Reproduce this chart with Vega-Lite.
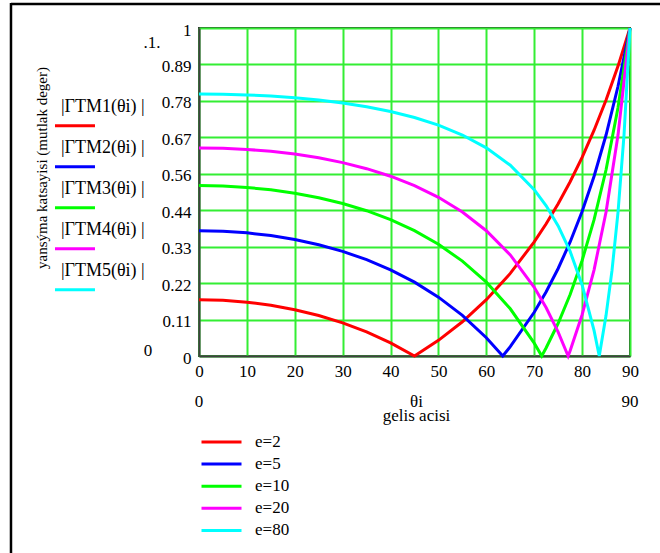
{
  "$schema": "https://vega.github.io/schema/vega-lite/v6.json",
  "width": 431,
  "height": 328,
  "autosize": {"type": "none"},
  "padding": {"left": 199, "top": 28, "right": 30, "bottom": 197},
  "background": "white",
  "config": {
    "font": "Liberation Serif",
    "view": {"stroke": "#333333", "strokeWidth": 2},
    "axis": {"labelFont": "Liberation Serif", "titleFont": "Liberation Serif"},
    "legend": {"labelFont": "Liberation Serif", "titleFont": "Liberation Serif"},
    "text": {"font": "Liberation Serif"}
  },
  "datasets": {
    "curves": [
      {"theta": 0, "series": "e=2", "r": 0.1716}, {"theta": 5, "series": "e=2", "r": 0.1697}, {"theta": 10, "series": "e=2", "r": 0.1641}, {"theta": 15, "series": "e=2", "r": 0.1547}, {"theta": 20, "series": "e=2", "r": 0.1412}, {"theta": 25, "series": "e=2", "r": 0.1235}, {"theta": 30, "series": "e=2", "r": 0.101}, {"theta": 35, "series": "e=2", "r": 0.0734}, {"theta": 40, "series": "e=2", "r": 0.04}, {"theta": 45, "series": "e=2", "r": 0}, {"theta": 50, "series": "e=2", "r": 0.0477}, {"theta": 55, "series": "e=2", "r": 0.1043}, {"theta": 60, "series": "e=2", "r": 0.1716}, {"theta": 65, "series": "e=2", "r": 0.2518}, {"theta": 70, "series": "e=2", "r": 0.348}, {"theta": 72.5, "series": "e=2", "r": 0.4032}, {"theta": 75, "series": "e=2", "r": 0.4641}, {"theta": 77.5, "series": "e=2", "r": 0.5313}, {"theta": 80, "series": "e=2", "r": 0.6057}, {"theta": 82.5, "series": "e=2", "r": 0.6884}, {"theta": 85, "series": "e=2", "r": 0.7805}, {"theta": 87.5, "series": "e=2", "r": 0.8838}, {"theta": 90, "series": "e=2", "r": 1},
      {"theta": 0, "series": "e=5", "r": 0.382}, {"theta": 5, "series": "e=5", "r": 0.3803}, {"theta": 10, "series": "e=5", "r": 0.3754}, {"theta": 15, "series": "e=5", "r": 0.3671}, {"theta": 20, "series": "e=5", "r": 0.3551}, {"theta": 25, "series": "e=5", "r": 0.3392}, {"theta": 30, "series": "e=5", "r": 0.3189}, {"theta": 35, "series": "e=5", "r": 0.2937}, {"theta": 40, "series": "e=5", "r": 0.2628}, {"theta": 45, "series": "e=5", "r": 0.2252}, {"theta": 50, "series": "e=5", "r": 0.1794}, {"theta": 55, "series": "e=5", "r": 0.1238}, {"theta": 60, "series": "e=5", "r": 0.0557}, {"theta": 63.43, "series": "e=5", "r": 0}, {"theta": 65, "series": "e=5", "r": 0.0283}, {"theta": 70, "series": "e=5", "r": 0.1333}, {"theta": 72.5, "series": "e=5", "r": 0.1959}, {"theta": 75, "series": "e=5", "r": 0.2668}, {"theta": 77.5, "series": "e=5", "r": 0.3477}, {"theta": 80, "series": "e=5", "r": 0.4406}, {"theta": 82.5, "series": "e=5", "r": 0.5481}, {"theta": 85, "series": "e=5", "r": 0.6738}, {"theta": 87.5, "series": "e=5", "r": 0.8223}, {"theta": 90, "series": "e=5", "r": 1},
      {"theta": 0, "series": "e=10", "r": 0.5195}, {"theta": 5, "series": "e=10", "r": 0.5181}, {"theta": 10, "series": "e=10", "r": 0.5139}, {"theta": 15, "series": "e=10", "r": 0.5067}, {"theta": 20, "series": "e=10", "r": 0.4964}, {"theta": 25, "series": "e=10", "r": 0.4827}, {"theta": 30, "series": "e=10", "r": 0.465}, {"theta": 35, "series": "e=10", "r": 0.443}, {"theta": 40, "series": "e=10", "r": 0.4156}, {"theta": 45, "series": "e=10", "r": 0.382}, {"theta": 50, "series": "e=10", "r": 0.3405}, {"theta": 55, "series": "e=10", "r": 0.2892}, {"theta": 60, "series": "e=10", "r": 0.2252}, {"theta": 65, "series": "e=10", "r": 0.144}, {"theta": 70, "series": "e=10", "r": 0.0392}, {"theta": 71.57, "series": "e=10", "r": 0}, {"theta": 72.5, "series": "e=10", "r": 0.0252}, {"theta": 75, "series": "e=10", "r": 0.0998}, {"theta": 77.5, "series": "e=10", "r": 0.1873}, {"theta": 80, "series": "e=10", "r": 0.2911}, {"theta": 82.5, "series": "e=10", "r": 0.4157}, {"theta": 85, "series": "e=10", "r": 0.5679}, {"theta": 87.5, "series": "e=10", "r": 0.7576}, {"theta": 90, "series": "e=10", "r": 1},
      {"theta": 0, "series": "e=20", "r": 0.6345}, {"theta": 5, "series": "e=20", "r": 0.6334}, {"theta": 10, "series": "e=20", "r": 0.6299}, {"theta": 15, "series": "e=20", "r": 0.624}, {"theta": 20, "series": "e=20", "r": 0.6156}, {"theta": 25, "series": "e=20", "r": 0.6042}, {"theta": 30, "series": "e=20", "r": 0.5896}, {"theta": 35, "series": "e=20", "r": 0.5711}, {"theta": 40, "series": "e=20", "r": 0.5481}, {"theta": 45, "series": "e=20", "r": 0.5195}, {"theta": 50, "series": "e=20", "r": 0.4838}, {"theta": 55, "series": "e=20", "r": 0.439}, {"theta": 60, "series": "e=20", "r": 0.382}, {"theta": 65, "series": "e=20", "r": 0.308}, {"theta": 70, "series": "e=20", "r": 0.2094}, {"theta": 72.5, "series": "e=20", "r": 0.1471}, {"theta": 75, "series": "e=20", "r": 0.073}, {"theta": 77.08, "series": "e=20", "r": 0}, {"theta": 77.5, "series": "e=20", "r": 0.0163}, {"theta": 80, "series": "e=20", "r": 0.1258}, {"theta": 82.5, "series": "e=20", "r": 0.2628}, {"theta": 85, "series": "e=20", "r": 0.4391}, {"theta": 87.5, "series": "e=20", "r": 0.6735}, {"theta": 90, "series": "e=20", "r": 1},
      {"theta": 0, "series": "e=80", "r": 0.7989}, {"theta": 5, "series": "e=80", "r": 0.7982}, {"theta": 10, "series": "e=80", "r": 0.7961}, {"theta": 15, "series": "e=80", "r": 0.7925}, {"theta": 20, "series": "e=80", "r": 0.7873}, {"theta": 25, "series": "e=80", "r": 0.7804}, {"theta": 30, "series": "e=80", "r": 0.7713}, {"theta": 35, "series": "e=80", "r": 0.7598}, {"theta": 40, "series": "e=80", "r": 0.7453}, {"theta": 45, "series": "e=80", "r": 0.727}, {"theta": 50, "series": "e=80", "r": 0.7037}, {"theta": 55, "series": "e=80", "r": 0.6738}, {"theta": 60, "series": "e=80", "r": 0.6345}, {"theta": 65, "series": "e=80", "r": 0.5816}, {"theta": 70, "series": "e=80", "r": 0.5073}, {"theta": 72.5, "series": "e=80", "r": 0.4579}, {"theta": 75, "series": "e=80", "r": 0.3967}, {"theta": 77.5, "series": "e=80", "r": 0.3188}, {"theta": 80, "series": "e=80", "r": 0.2167}, {"theta": 82.5, "series": "e=80", "r": 0.0773}, {"theta": 83.58, "series": "e=80", "r": 0}, {"theta": 85, "series": "e=80", "r": 0.1239}, {"theta": 86.25, "series": "e=80", "r": 0.2618}, {"theta": 87.5, "series": "e=80", "r": 0.4387}, {"theta": 88.75, "series": "e=80", "r": 0.6735}, {"theta": 90, "series": "e=80", "r": 1}
    ]
  },
  "layer": [
    {
      "data": {"name": "curves"},
      "mark": {"type": "line", "strokeWidth": 3},
      "encoding": {
        "x": {
          "field": "theta", "type": "quantitative",
          "scale": {"domain": [0, 90], "nice": false, "zero": false},
          "axis": {
            "values": [0, 10, 20, 30, 40, 50, 60, 70, 80, 90], "tickCount": 20,
            "title": ["θi", "gelis acisi"],
            "titleFont": "Liberation Serif", "titleFontSize": 17, "titleFontWeight": "normal", "titleColor": "black",
            "titleLineHeight": 14, "titleX": 217, "titleY": 50.7, "titleAlign": "center", "titleBaseline": "alphabetic",
            "labelFont": "Liberation Serif", "labelFontSize": 17, "labelColor": "black", "labelBaseline": "alphabetic", "labelPadding": 20.5,
            "ticks": false, "tickSize": 0, "labelFlush": false, "labelOverlap": false,
            "grid": true, "gridColor": "#33ee33", "gridWidth": 2, "gridOpacity": 1,
            "domainColor": "#404040", "domainWidth": 2
          }
        },
        "y": {
          "field": "r", "type": "quantitative",
          "scale": {"domain": [0, 1], "nice": false, "zero": false},
          "axis": {
            "values": [0, 0.111111, 0.222222, 0.333333, 0.444444, 0.555556, 0.666667, 0.777778, 0.888889, 1], "tickCount": 20,
            "format": ".2~f",
            "title": "yansýma katsayisi (mutlak deger)",
            "titleFont": "Liberation Serif", "titleFontSize": 15, "titleFontWeight": "normal", "titleColor": "black",
            "titleAngle": 270, "titleX": -152.3, "titleY": 139.5, "titleAlign": "center", "titleBaseline": "alphabetic",
            "labelFont": "Liberation Serif", "labelFontSize": 17, "labelColor": "black", "labelBaseline": "alphabetic", "labelOffset": 7, "labelPadding": 8,
            "ticks": false, "tickSize": 0, "labelFlush": false, "labelOverlap": false,
            "grid": true, "gridColor": "#33ee33", "gridWidth": 2, "gridOpacity": 1,
            "domainColor": "#404040", "domainWidth": 2
          }
        },
        "color": {
          "field": "series", "type": "nominal",
          "scale": {"domain": ["e=2", "e=5", "e=10", "e=20", "e=80"], "range": ["#ff0000", "#0000ff", "#00ff00", "#ff00ff", "#00ffff"]},
          "legend": {
            "orient": "none", "legendX": 14, "legendY": 405.5, "title": null,
            "symbolType": "M-4,0H4", "symbolSize": 100, "symbolStrokeWidth": 3,
            "labelFont": "Liberation Serif", "labelFontSize": 17, "labelColor": "black", "labelOffset": 25, "rowPadding": 4.1,
            "padding": 0, "direction": "vertical", "labelLimit": 0
          }
        }
      }
    },
    {"data": {"values": [{}]}, "mark": {"type": "text", "align": "left", "baseline": "alphabetic", "font": "Liberation Serif", "fontSize": 18, "color": "black", "text": "|ΓTM1(θi) |"}, "encoding": {"x": {"datum": -28.82}, "y": {"datum": 0.7448}}},
    {"data": {"values": [{}]}, "mark": {"type": "text", "align": "left", "baseline": "alphabetic", "font": "Liberation Serif", "fontSize": 18, "color": "black", "text": "|ΓTM2(θi) |"}, "encoding": {"x": {"datum": -28.82}, "y": {"datum": 0.6198}}},
    {"data": {"values": [{}]}, "mark": {"type": "text", "align": "left", "baseline": "alphabetic", "font": "Liberation Serif", "fontSize": 18, "color": "black", "text": "|ΓTM3(θi) |"}, "encoding": {"x": {"datum": -28.82}, "y": {"datum": 0.4948}}},
    {"data": {"values": [{}]}, "mark": {"type": "text", "align": "left", "baseline": "alphabetic", "font": "Liberation Serif", "fontSize": 18, "color": "black", "text": "|ΓTM4(θi) |"}, "encoding": {"x": {"datum": -28.82}, "y": {"datum": 0.3698}}},
    {"data": {"values": [{}]}, "mark": {"type": "text", "align": "left", "baseline": "alphabetic", "font": "Liberation Serif", "fontSize": 18, "color": "black", "text": "|ΓTM5(θi) |"}, "encoding": {"x": {"datum": -28.82}, "y": {"datum": 0.2448}}},
    {"data": {"values": [{}]}, "mark": {"type": "rule", "color": "#ff0000", "strokeWidth": 3}, "encoding": {"x": {"datum": -30.07}, "x2": {"datum": -21.72}, "y": {"datum": 0.7021}}},
    {"data": {"values": [{}]}, "mark": {"type": "rule", "color": "#0000ff", "strokeWidth": 3}, "encoding": {"x": {"datum": -30.07}, "x2": {"datum": -21.72}, "y": {"datum": 0.5771}}},
    {"data": {"values": [{}]}, "mark": {"type": "rule", "color": "#00ff00", "strokeWidth": 3}, "encoding": {"x": {"datum": -30.07}, "x2": {"datum": -21.72}, "y": {"datum": 0.4521}}},
    {"data": {"values": [{}]}, "mark": {"type": "rule", "color": "#ff00ff", "strokeWidth": 3}, "encoding": {"x": {"datum": -30.07}, "x2": {"datum": -21.72}, "y": {"datum": 0.3271}}},
    {"data": {"values": [{}]}, "mark": {"type": "rule", "color": "#00ffff", "strokeWidth": 3}, "encoding": {"x": {"datum": -30.07}, "x2": {"datum": -21.72}, "y": {"datum": 0.2021}}},
    {"data": {"values": [{}]}, "mark": {"type": "text", "align": "center", "baseline": "alphabetic", "font": "Liberation Serif", "fontSize": 17, "color": "black", "text": ".1."}, "encoding": {"x": {"datum": -9.81}, "y": {"datum": 0.938}}},
    {"data": {"values": [{}]}, "mark": {"type": "text", "align": "center", "baseline": "alphabetic", "font": "Liberation Serif", "fontSize": 17, "color": "black", "text": "0"}, "encoding": {"x": {"datum": -10.65}, "y": {"datum": 0.0}}},
    {"data": {"values": [{}]}, "mark": {"type": "text", "align": "center", "baseline": "alphabetic", "font": "Liberation Serif", "fontSize": 17, "color": "black", "text": "0"}, "encoding": {"x": {"datum": 0}, "y": {"datum": -0.1545}}},
    {"data": {"values": [{}]}, "mark": {"type": "text", "align": "center", "baseline": "alphabetic", "font": "Liberation Serif", "fontSize": 17, "color": "black", "text": "90"}, "encoding": {"x": {"datum": 90}, "y": {"datum": -0.156}}},
    {"data": {"values": [{}]}, "mark": {"type": "rule", "color": "black", "strokeWidth": 2.5}, "encoding": {"x": {"datum": -39.26}, "x2": {"datum": 100}, "y": {"datum": 1.0732}}},
    {"data": {"values": [{}]}, "mark": {"type": "rule", "color": "black", "strokeWidth": 2.5}, "encoding": {"x": {"datum": -39.26}, "y": {"datum": 1.0762}, "y2": {"datum": -0.65}}}
  ]
}
